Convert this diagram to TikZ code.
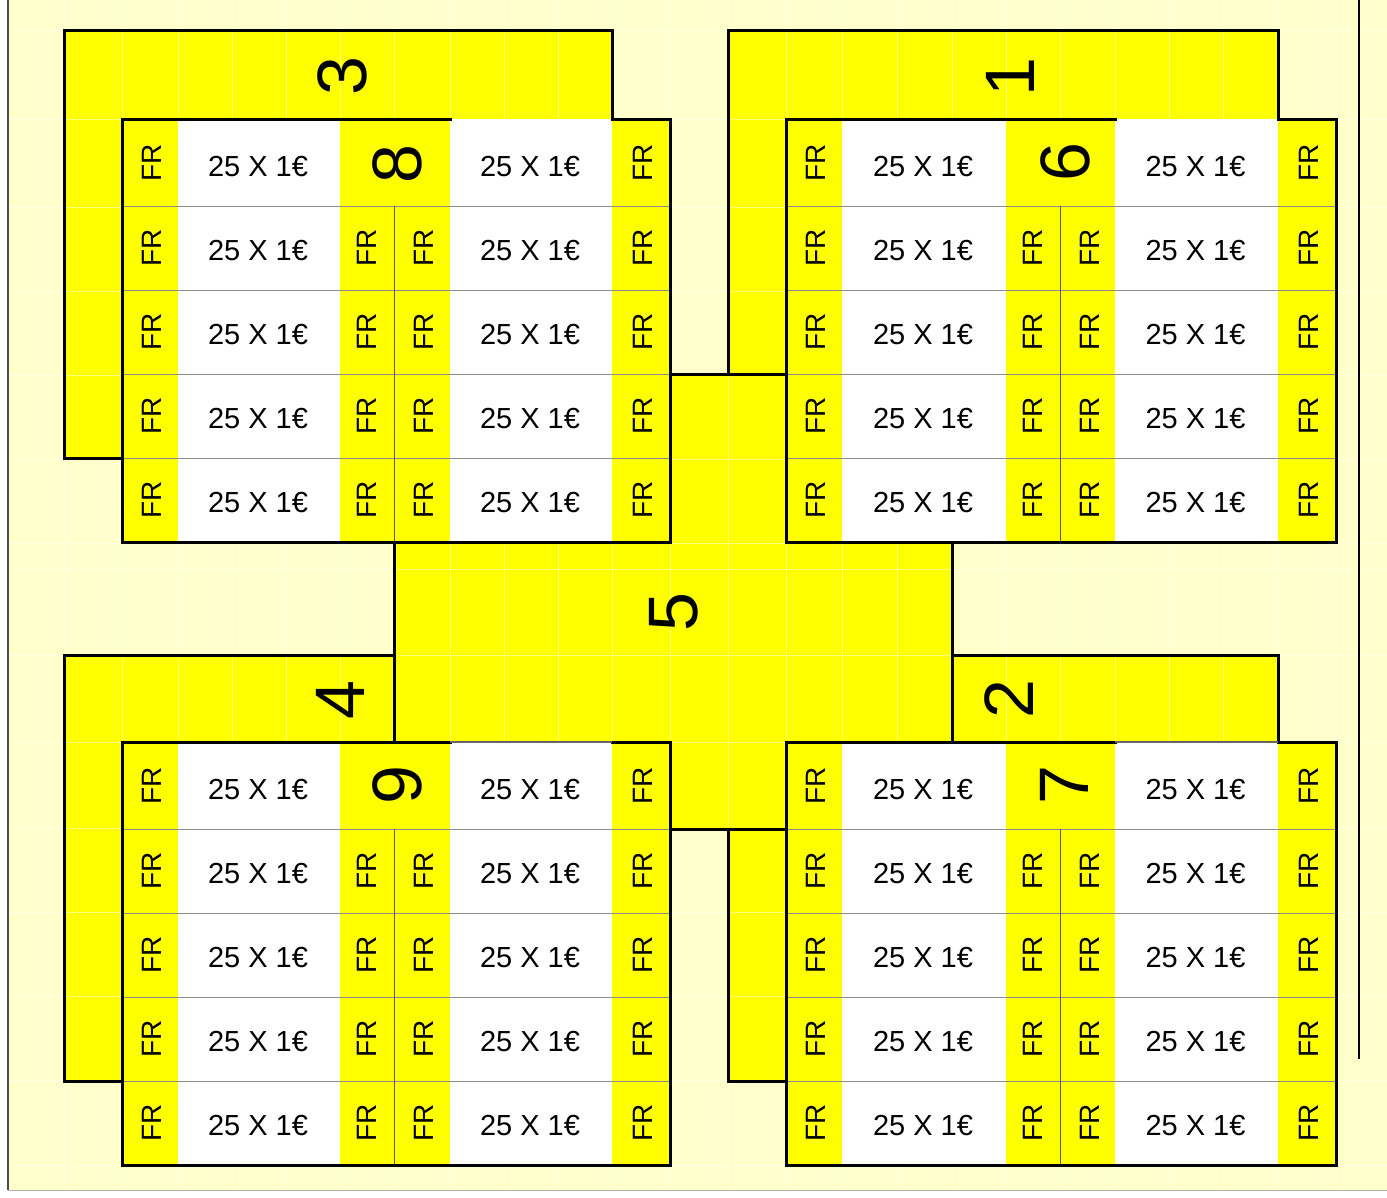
\documentclass[tikz,border=0pt]{standalone}
\usepackage{fontspec}
\setmainfont{Liberation Sans}
\definecolor{cyel}{HTML}{FFFF00}
\definecolor{bgyel}{HTML}{FFFFCC}
\tikzset{
 border/.style={line width=3pt, line cap=rect, line join=miter, draw=black},
 tabborder/.style={line width=3pt, line cap=rect, line join=miter, draw=black},
 thintop/.style={line width=1.5pt, draw=black!60},
 rowline/.style={line width=1pt, draw=black!45},
 midline/.style={line width=1pt, draw=black!65},
 gridfaint/.style={line width=0.8pt, draw=white, opacity=0.45},
 frtxt/.style={rotate=90, inner sep=0pt, font=\fontsize{28}{30}\selectfont},
 eurtxt/.style={inner sep=0pt, font=\fontsize{29}{31}\selectfont},
 numtxt/.style={rotate=90, inner sep=0pt, font=\fontsize{70}{72}\selectfont},
}
\newcommand\gridblock[9]{%
 \pgfmathsetmacro\ya{#8}%
 \pgfmathsetmacro\yb{#8+87}%
 \pgfmathsetmacro\yc{#8+171}%
 \pgfmathsetmacro\yd{#8+255}%
 \pgfmathsetmacro\ye{#8+339}%
 \pgfmathsetmacro\yf{#8+423}%
 \fill[cyel] (#1,\ya) rectangle (#7,\yf);
 \fill[white] (#2,\ya) rectangle (#3,\yf);
 \fill[white] (#5,\ya) rectangle (#6,\yf);
 \foreach \yy in {\yb,\yc,\yd,\ye} {\draw[rowline] (#1,\yy) -- (#7,\yy);}
 \draw[midline] (#4,\yb) -- (#4,\yf);
 \draw[border] (#5,\ya) -- (#1,\ya) -- (#1,\yf) -- (#7,\yf) -- (#7,\ya) -- (#6,\ya);
 \foreach \t/\u [count=\r] in {\ya/\yb,\yb/\yc,\yc/\yd,\yd/\ye,\ye/\yf} {
   \node[frtxt] (#9-fra-\r) at ({(#1+#2)/2+2},{(\t+\u)/2}) {FR};
   \node[eurtxt] (#9-eua-\r) at ({(#2+#3)/2-1},{\u-39}) {25 X 1€};
   \node[eurtxt] (#9-eub-\r) at ({(#5+#6)/2-1},{\u-39}) {25 X 1€};
   \node[frtxt] (#9-frd-\r) at ({(#6+#7)/2+2},{(\t+\u)/2}) {FR};
 }
 \foreach \t/\u [count=\r from 2] in {\yb/\yc,\yc/\yd,\yd/\ye,\ye/\yf} {
   \node[frtxt] (#9-frb-\r) at ({(#3+#4)/2},{(\t+\u)/2}) {FR};
   \node[frtxt] (#9-frc-\r) at ({(#4+#5)/2+2},{(\t+\u)/2}) {FR};
 }
}
\begin{document}
\begin{tikzpicture}[x=1pt,y=-1pt]
\useasboundingbox (0,0) rectangle (1387,1197);
% page background
\fill[white] (0,0) rectangle (1387,1197);
\fill[bgyel] (8,0) rectangle (1387,1190);
% yellow tabs and centre
\fill[cyel] (64,30) -- (612,30) -- (612,119) -- (122,119) -- (122,458) -- (64,458) -- cycle;
\fill[cyel] (728,30) -- (1278,30) -- (1278,119) -- (786,119) -- (786,374) -- (728,374) -- cycle;
\fill[cyel] (64,655) -- (394,655) -- (394,742) -- (122,742) -- (122,1081) -- (64,1081) -- cycle;
\fill[cyel] (952,655) -- (1278,655) -- (1278,742) -- (952,742) -- cycle;
\fill[cyel] (728,829) -- (786,829) -- (786,1081) -- (728,1081) -- cycle;
\fill[cyel] (670,374) -- (786,374) -- (786,542) -- (952,542) -- (952,742) -- (786,742) -- (786,829) -- (670,829) -- (670,742) -- (394,742) -- (394,542) -- (670,542) -- cycle;
% faint sheet gridlines
\foreach \gx in {64,122,178,232,286,340,394,450,504,558,612,670,728,786,842,897,952,1006,1060,1115,1169,1223,1278,1336}
  {\draw[gridfaint] (\gx,0) -- (\gx,1190);}
\foreach \gy in {30,119,207,291,375,459,543,569,655,742,828,912,996,1080,1165}
  {\draw[gridfaint] (8,\gy) -- (1387,\gy);}
% tab borders
\draw[tabborder] (612,119) -- (612,30) -- (64,30) -- (64,458) -- (122,458);
\draw[tabborder] (786,374) -- (728,374) -- (728,30) -- (1278,30) -- (1278,119);
\draw[tabborder] (122,1081) -- (64,1081) -- (64,655) -- (394,655) -- (394,742);
\draw[tabborder] (952,742) -- (952,655) -- (1278,655) -- (1278,742);
\draw[tabborder] (786,829) -- (728,829) -- (728,1081) -- (786,1081);
\draw[tabborder] (670,374) -- (786,374) -- (786,542) -- (952,542) -- (952,742) -- (786,742) -- (786,829) -- (670,829) -- (670,742) -- (394,742) -- (394,542) -- (670,542) -- cycle;
% grids
\gridblock{122}{178}{340}{394}{450}{612}{670}{119}{tl}
\gridblock{786}{842}{1006}{1060}{1115}{1278}{1336}{119}{tr}
\gridblock{122}{178}{340}{394}{450}{612}{670}{742}{bl}
\gridblock{786}{842}{1006}{1060}{1115}{1278}{1336}{742}{br}
\draw[thintop] (450,742) -- (612,742);
\draw[thintop] (1115,742) -- (1278,742);
% numbers
\node[numtxt] (n3) at (342,76) {3};
\node[numtxt] (n1) at (1010,77) {1};
\node[numtxt] (n8) at (397,164) {8};
\node[numtxt] (n6) at (1065,162) {6};
\node[numtxt] (n5) at (674,612) {5};
\node[numtxt] (n4) at (340,700) {4};
\node[numtxt] (n2) at (1009,699) {2};
\node[numtxt] (n9) at (397,785) {9};
\node[numtxt] (n7) at (1064,785) {7};
% sheet edges
\draw[line width=1.5pt, draw=black!70] (8,0) -- (8,1190);
\draw[line width=1pt, draw=black!30] (8,1190) -- (1387,1190);
\draw[line width=2pt, draw=black] (1359,0) -- (1359,1059);
\end{tikzpicture}
\end{document}
